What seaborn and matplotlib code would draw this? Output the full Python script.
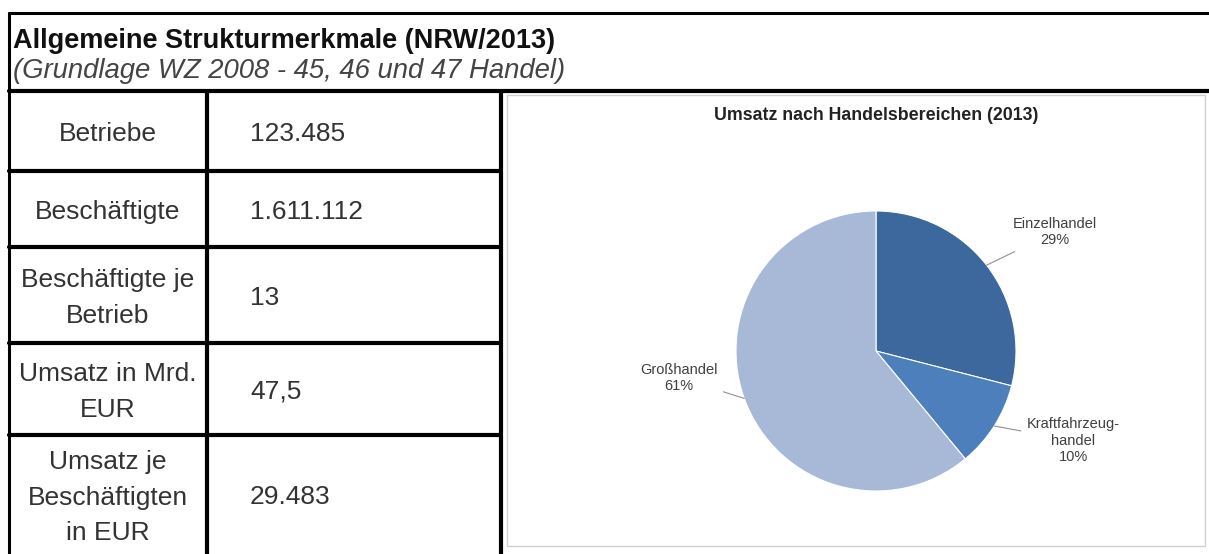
import numpy as np
import matplotlib
matplotlib.use("Agg")
import matplotlib.pyplot as plt
import seaborn as sns

# data
title = "Allgemeine Strukturmerkmale (NRW/2013)"
subtitle = "(Grundlage WZ 2008 - 45, 46 und 47 Handel)"
row_labels = ["Betriebe", "Beschäftigte", "Beschäftigte je\nBetrieb",
              "Umsatz in Mrd.\nEUR", "Umsatz je\nBeschäftigten\nin EUR"]
row_values = ["123.485", "1.611.112", "13", "47,5", "29.483"]
pie_title = "Umsatz nach Handelsbereichen (2013)"
sectors = ["Einzelhandel", "Kraftfahrzeug-\nhandel", "Großhandel"]
shares = [29, 10, 61]

sns.set_theme(style="white")
plt.rcParams['font.family'] = ['Liberation Sans', 'DejaVu Sans']

W, H = 1209, 554
fig = plt.figure(figsize=(W / 100, H / 100), dpi=100)
fig.patch.set_facecolor("white")

# background axes in pixel coordinates for frame + table
ax = fig.add_axes([0, 0, 1, 1])
ax.set_xlim(0, W)
ax.set_ylim(H, 0)
ax.axis("off")

# outer frame and header
ax.plot([9, W], [13, 13], color="black", lw=2.2)
ax.plot([9, 9], [13, H], color="black", lw=2.2)
ax.plot([9, W], [91, 91], color="black", lw=3)
ax.text(13, 41, title, fontsize=19.5, fontweight="bold", va="center", ha="left", color="#111111")
ax.text(13, 71, subtitle, fontsize=19.8, style="italic", va="center", ha="left", color="#444444")

# table
row_edges = [91, 171, 247, 343, 435, H]
for y in row_edges[1:-1]:
    ax.plot([9, 501], [y, y], color="black", lw=3)
ax.plot([207, 207], [91, H], color="black", lw=3)
ax.plot([501, 501], [91, H], color="black", lw=3)
for i, (lab, val) in enumerate(zip(row_labels, row_values)):
    yc = (row_edges[i] + row_edges[i + 1]) / 2
    ax.text(108, yc + 3, lab, fontsize=19, ha="center", va="center",
            color="#333333", linespacing=1.6)
    ax.text(250, yc + 3, val, fontsize=19, ha="left", va="center", color="#333333")

# chart panel border
ax.plot([507, 1205, 1205, 507, 507], [95, 95, 546, 546, 95], color="#d0d0d0", lw=1)
ax.text(876, 116, pie_title, fontsize=12.8, fontweight="bold", ha="center", va="center",
        color="#222222")

# pie
colors = ["#3c689d", "#4c7fbc", "#a8b9d7"]
cx, cy, r = 876, 351, 140
ax_pie = fig.add_axes([(cx - r) / W, 1 - (cy + r) / H, 2 * r / W, 2 * r / H])
wedges, _ = ax_pie.pie(shares, colors=colors, startangle=90, counterclock=False,
                       wedgeprops=dict(edgecolor="white", linewidth=0.8))
ax_pie.set_xlim(-1, 1)
ax_pie.set_ylim(-1, 1)
ax_pie.set_aspect("equal")
ax_pie.axis("off")

label_pos = [(1.28, 0.85), (1.41, -0.64), (-1.41, -0.19)]
for w, name, s, pos in zip(wedges, sectors, shares, label_pos):
    ang = np.deg2rad((w.theta1 + w.theta2) / 2)
    xy = (np.cos(ang), np.sin(ang))
    ax_pie.annotate(f"{name}\n{s}%", xy=xy, xytext=pos, ha="center", va="center",
                    fontsize=10.5, color="#404040", annotation_clip=False,
                    arrowprops=dict(arrowstyle="-", color="#909090", lw=0.8,
                                    shrinkA=2, shrinkB=0))

fig.savefig("out.png", dpi=100, facecolor="white")
